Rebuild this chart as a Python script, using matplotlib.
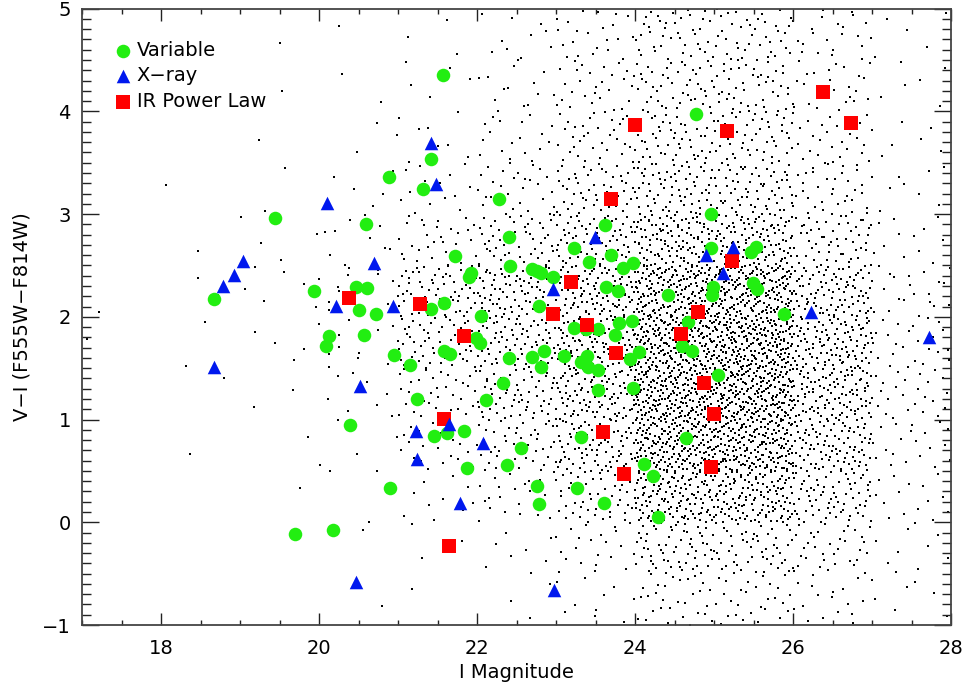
import matplotlib
matplotlib.use("Agg")
from matplotlib import pyplot as plt
from matplotlib.ticker import MultipleLocator

# background stars: estimated counts per cell (x bins of 1 mag, y bins of 0.5 mag)
field_x_edges = [17, 18, 19, 20, 21, 22, 23, 24, 25, 26, 27]
field_y_edges = [4.5, 4.0, 3.5, 3.0, 2.5, 2.0, 1.5, 1.0, 0.5, 0.0, -0.5, -1.0]
field_counts = [
    [0, 0, 1, 1, 3, 10, 22, 40, 40, 22, 5],
    [0, 0, 1, 2, 5, 14, 28, 45, 45, 25, 6],
    [0, 0, 1, 3, 8, 18, 35, 55, 50, 28, 6],
    [0, 1, 2, 5, 14, 28, 50, 70, 65, 35, 8],
    [0, 1, 4, 10, 30, 50, 75, 115, 110, 55, 12],
    [1, 2, 6, 18, 65, 85, 110, 180, 190, 95, 20],
    [1, 2, 4, 14, 55, 80, 115, 210, 220, 110, 24],
    [0, 1, 2, 8, 35, 65, 100, 210, 220, 110, 24],
    [0, 1, 1, 5, 22, 45, 80, 190, 190, 95, 20],
    [0, 0, 1, 2, 10, 22, 50, 130, 130, 70, 15],
    [0, 0, 0, 1, 3, 8, 22, 60, 55, 35, 10],
    [0, 0, 0, 1, 1, 3, 10, 30, 28, 18, 6],
]

var_mag = [18.67, 19.44, 19.70, 19.94, 20.09, 20.13, 20.18, 20.39, 20.47, 20.51,
           20.57, 20.59, 20.61, 20.72, 20.89, 20.90, 20.95, 21.15, 21.24, 21.32,
           21.42, 21.42, 21.46, 21.57, 21.58, 21.58, 21.62, 21.66, 21.72, 21.84,
           21.87, 21.90, 21.92, 21.99, 22.04, 22.05, 22.11, 22.28, 22.33, 22.38,
           22.41, 22.42, 22.41, 22.56, 22.70, 22.70, 22.76, 22.76, 22.78, 22.81,
           22.78, 22.81, 22.85, 22.96, 23.10, 23.23, 23.23, 23.27, 23.32, 23.32,
           23.39, 23.42, 23.41, 23.38, 23.53, 23.53, 23.53, 23.61, 23.62, 23.63,
           23.70, 23.75, 23.78, 23.80, 23.85, 23.94, 23.96, 23.97, 23.97, 24.05,
           24.11, 24.23, 24.29, 24.42, 24.65, 24.67, 24.59, 24.72, 24.77, 24.96,
           24.96, 24.99, 24.97, 25.05, 25.47, 25.53, 25.49, 25.54, 25.89]
var_col = [2.17, 2.96, -0.11, 2.25, 1.72, 1.81, -0.08, 0.95, 2.29, 2.07,
           1.82, 2.90, 2.28, 2.03, 3.36, 0.33, 1.63, 1.53, 1.20, 3.24,
           3.54, 2.08, 0.84, 4.35, 2.13, 1.67, 0.87, 1.64, 2.59, 0.89,
           0.53, 2.39, 2.43, 1.79, 1.75, 2.01, 1.19, 3.15, 1.36, 0.56,
           2.78, 2.49, 1.60, 0.72, 2.47, 1.61, 2.45, 0.35, 0.18, 2.43,
           2.11, 1.51, 1.67, 2.39, 1.62, 2.67, 1.89, 0.33, 0.83, 1.56,
           1.62, 2.53, 1.51, 1.88, 1.88, 1.48, 1.29, 0.19, 2.89, 2.29,
           2.60, 1.82, 2.25, 1.94, 2.48, 1.59, 1.96, 1.31, 2.52, 1.66,
           0.57, 0.45, 0.05, 2.21, 0.82, 1.95, 1.72, 1.67, 3.97, 3.00,
           2.67, 2.29, 2.21, 1.43, 2.63, 2.68, 2.33, 2.27, 2.03]

xray_mag = [18.67, 18.78, 18.92, 19.04, 20.10, 20.22, 20.47, 20.52, 20.70, 20.94,
            21.23, 21.24, 21.42, 21.48, 21.65, 21.78, 22.08, 22.96, 22.97, 23.49,
            24.90, 25.11, 25.24, 26.23, 27.72]
xray_col = [1.51, 2.30, 2.41, 2.54, 3.11, 2.11, -0.58, 1.33, 2.52, 2.11,
            0.89, 0.62, 3.69, 3.29, 0.96, 0.19, 0.77, 2.27, -0.66, 2.78,
            2.60, 2.43, 2.68, 2.05, 1.80]

ir_mag = [20.38, 21.28, 21.58, 21.65, 21.84, 22.96, 23.19, 23.39, 23.59, 23.70,
          23.76, 23.86, 24.00, 24.58, 24.80, 24.87, 24.96, 25.00, 25.16, 25.23,
          26.38, 26.73]
ir_col = [2.18, 2.12, 1.01, -0.23, 1.81, 2.03, 2.34, 1.92, 0.88, 3.15,
          1.65, 0.47, 3.87, 1.83, 2.05, 1.36, 0.54, 1.05, 3.81, 2.54,
          4.19, 3.89]


def halton(i, b):
    f, r = 1.0, 0.0
    while i > 0:
        f = f / b
        r += f * (i % b)
        i //= b
    return r


# spread each cell's count evenly over the cell
fx, fy = [], []
k = 1
for r, row in enumerate(field_counts):
    for c, n in enumerate(row):
        for j in range(n):
            fx.append(field_x_edges[c] + halton(k, 2))
            fy.append(field_y_edges[r] + 0.5 * halton(k, 3))
            k += 1

fig = plt.figure(figsize=(9.65, 6.91), dpi=100)
ax = fig.add_axes([0.085, 0.0955, 0.9005, 0.892])

ax.scatter(fx, fy, s=1.3, marker='s', c='black', linewidths=0)
ax.scatter(var_mag, var_col, s=95, marker='o', c='#22ee11', linewidths=0, label='Variable')
ax.scatter(ir_mag, ir_col, s=88, marker='s', c='#ff0000', linewidths=0, label='IR Power Law')
ax.scatter(xray_mag, xray_col, s=95, marker='^', c='#0018ee', linewidths=0, label='X\u2212ray')

ax.set_xlim(17, 28)
ax.set_ylim(-1, 5)
ax.xaxis.set_major_locator(MultipleLocator(2))
ax.xaxis.set_minor_locator(MultipleLocator(0.5))
ax.yaxis.set_major_locator(MultipleLocator(1))
ax.yaxis.set_minor_locator(MultipleLocator(0.1))
ax.tick_params(which='both', direction='in', top=True, right=True, colors='#222222',
               labelsize=14, labelcolor='black')
ax.tick_params(axis='x', which='major', length=8.5, width=1, pad=10)
ax.tick_params(axis='x', which='minor', length=3.8, width=1)
ax.tick_params(axis='y', which='major', length=12, width=1, pad=8)
ax.tick_params(axis='y', which='minor', length=6.5, width=1)
ax.set_yticks([-1, 0, 1, 2, 3, 4, 5])
ax.set_yticklabels(['\u22121', '0', '1', '2', '3', '4', '5'])
for s in ax.spines.values():
    s.set_color('#444444')
    s.set_linewidth(1.3)

ax.set_xlabel('I Magnitude', fontsize=14, labelpad=4)
ax.set_ylabel('V\u2212I (F555W\u2212F814W)', fontsize=14, labelpad=8)

h, l = ax.get_legend_handles_labels()
order = [0, 2, 1]
ax.legend([h[i] for i in order], [l[i] for i in order], loc='upper left', frameon=False,
          bbox_to_anchor=(0.035, 0.948), borderaxespad=0, borderpad=0,
          fontsize=14, handletextpad=0.15, labelspacing=0.35,
          handlelength=1.1, markerscale=1.0)

fig.savefig('out.png', dpi=100)
